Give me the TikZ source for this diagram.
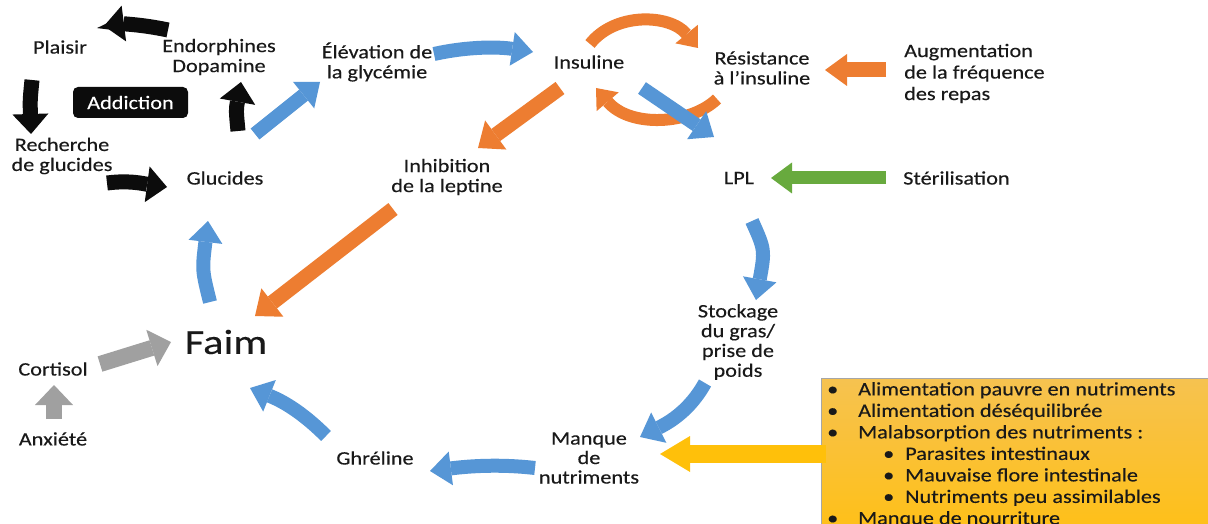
\documentclass[tikz,border=0pt]{standalone}
\usepackage{fontspec}
\setmainfont{Carlito}[FakeStretch=1.17,FakeBold=0.3]
\usetikzlibrary{arrows.meta}
\definecolor{cblue}{RGB}{86,150,214}
\definecolor{corange}{RGB}{237,125,49}
\definecolor{cgreen}{RGB}{104,170,62}
\definecolor{cgray}{RGB}{160,160,160}
\definecolor{cblack}{RGB}{12,12,12}
\definecolor{cyellow}{RGB}{255,192,10}
\definecolor{boxtop}{RGB}{246,194,80}
\definecolor{boxbot}{RGB}{255,192,20}
\definecolor{txt}{RGB}{25,25,25}
\begin{document}
\begin{tikzpicture}[x=1pt,y=-1pt,
  lbl/.style={font=\fontsize{19}{20}\selectfont, align=center, inner sep=0pt, text=txt},
  blockarrow/.style n args={4}{draw=#1, line width=#2, -{Triangle[length=#3,width=#4,line width=0pt]}},
  blk/.style={blockarrow={cblack}{15pt}{20pt}{36pt}},
  blu/.style={blockarrow={cblue}{14pt}{21pt}{34pt}},
  org/.style={blockarrow={corange}{15pt}{22pt}{36pt}},
  arc/.style={blockarrow={corange}{12pt}{18pt}{29pt}},
  gry/.style={blockarrow={cgray}{16pt}{20pt}{38pt}},
  grn/.style={blockarrow={cgreen}{13pt}{21pt}{31pt}},
  ylw/.style={blockarrow={cyellow}{18pt}{30pt}{36pt}}]
\useasboundingbox (0,0) rectangle (1208,524);
\fill[white] (0,0) rectangle (1208,524);
\clip (0,0) rectangle (1208,524);

% labels
\node[lbl] (plaisir) at (60,47) {Plaisir};
\node[lbl] (endo) at (219,57) {Endorphines\\Dopamine};
\node[fill=cblack, rounded corners=5pt, minimum width=115pt, minimum height=31pt, inner sep=0pt,
      text=white, font=\fontsize{19}{20}\selectfont] (addiction) at (130.5,102.5) {Addiction};
\node[lbl] (recherche) at (62,156) {Recherche\\de glucides};
\node[lbl] (glucides) at (225,178) {Glucides};
\node[lbl] (elev) at (377,62) {Élévation de\\la glycémie};
\node[lbl] (insuline) at (589,62) {Insuline};
\node[lbl] (resist) at (762,68) {Résistance\\à l’insuline};
\node[lbl, align=left, anchor=west, font=\fontsize{19}{21.5}\selectfont] (augm) at (904,73.5) {Augmentation\\de la fréquence\\des repas};
\node[lbl] (inhib) at (447,177) {Inhibition\\de la leptine};
\node[lbl] (lpl) at (739,178) {LPL};
\node[lbl, anchor=west] (steril) at (903,178) {Stérilisation};
\node[lbl, font=\fontsize{35}{37}\selectfont, xscale=1.04] (faim) at (226,342) {Faim};
\node[lbl] (cortisol) at (53,369) {Cortisol};
\node[lbl] (anxiete) at (53,439) {Anxiété};
\node[lbl] (ghreline) at (375,458) {Ghréline};
\node[lbl, font=\fontsize{19}{19.5}\selectfont] (manque) at (589,458) {Manque\\de\\nutriments};
\node[lbl, font=\fontsize{19}{19.8}\selectfont] (stockage) at (738,342) {Stockage\\du gras/\\prise de\\poids};

% yellow box
\draw[draw=gray!70, top color=boxtop, bottom color=boxbot] (821,378) rectangle (1215,540);
\node[lbl, align=left, anchor=north west, font=\fontsize{19}{21.5}\selectfont] (liste) at (827,382)
 {\makebox[31pt][l]{•}Alimentation pauvre en nutriments\\
  \makebox[31pt][l]{•}Alimentation déséquilibrée\\
  \makebox[31pt][l]{•}Malabsorption des nutriments :\\
  \hspace*{56pt}\makebox[22pt][l]{•}Parasites intestinaux\\
  \hspace*{56pt}\makebox[22pt][l]{•}Mauvaise flore intestinale\\
  \hspace*{56pt}\makebox[22pt][l]{•}Nutriments peu assimilables\\
  \makebox[31pt][l]{•}Manque de nourriture};

% arrow end points
\coordinate (a1s) at (168,30);  \coordinate (a1e) at (104,26);
\coordinate (a2s) at (32,80);   \coordinate (a2e) at (31,134);
\coordinate (a3s) at (107,183); \coordinate (a3e) at (167,187);
\coordinate (a4s) at (238,131); \coordinate (a4e) at (241,82);
\coordinate (a5s) at (255,134); \coordinate (a5e) at (320,82);
\coordinate (a6s) at (434,54);  \coordinate (a6e) at (533,52);
\coordinate (a7s) at (590,44);  \coordinate (a7e) at (698,48);
\coordinate (a8s) at (717,99);  \coordinate (a8e) at (596,88);
\coordinate (a9s) at (642,88);  \coordinate (a9e) at (714,137);
\coordinate (a10s) at (560,88); \coordinate (a10e) at (478,148);
\coordinate (a11s) at (393,209);\coordinate (a11e) at (255,316);
\coordinate (a12s) at (210,302);\coordinate (a12e) at (208,221);
\coordinate (a13s) at (100,364);\coordinate (a13e) at (171,342);
\coordinate (a14s) at (54,419); \coordinate (a14e) at (54,385);
\coordinate (a15s) at (326,436);\coordinate (a15e) at (250,388);
\coordinate (a16s) at (535,468);\coordinate (a16e) at (430,471);
\coordinate (a17s) at (752,221);\coordinate (a17e) at (756,300);
\coordinate (a18s) at (705,383);\coordinate (a18e) at (640,437);
\coordinate (a19s) at (826,454);\coordinate (a19e) at (660,454);
\coordinate (a20s) at (886,70); \coordinate (a20e) at (825,70);
\coordinate (a21s) at (886,178);\coordinate (a21e) at (771,178);

% addiction cycle
\draw[blk] (a1s) .. controls (140,24) and (120,24) .. (a1e);
\draw[blk] (a2s) .. controls (30,100) .. (a2e);
\draw[blk] (a3s) .. controls (130,180) and (145,184) .. (a3e);
\draw[blk] (a4s) .. controls (236,110) .. (a4e);

% main cycle
\draw[blu] (a5s) -- (a5e);
\draw[blu] (a6s) .. controls (470,46) and (500,47) .. (a6e);
\draw[arc] (a7s) .. controls (615,12) and (670,14) .. (a7e);
\draw[arc] (a8s) .. controls (690,125) and (630,128) .. (a8e);
\draw[blu] (a9s) -- (a9e);
\draw[org] (a10s) -- (a10e);
\draw[org] (a11s) -- (a11e);
\draw[blu] (a12s) .. controls (202,270) .. (a12e);
\draw[gry] (a13s) -- (a13e);
\draw[gry] (a14s) -- (a14e);
\draw[blu] (a15s) .. controls (300,410) and (280,400) .. (a15e);
\draw[blu] (a16s) .. controls (500,464) and (470,466) .. (a16e);
\draw[blu] (a17s) .. controls (765,250) .. (a17e);
\draw[blu] (a18s) .. controls (690,410) and (670,422) .. (a18e);
\draw[ylw] (a19s) -- (a19e);
\draw[blockarrow={corange}{15pt}{22pt}{32pt}] (a20s) -- (a20e);
\draw[grn] (a21s) -- (a21e);
\end{tikzpicture}
\end{document}
